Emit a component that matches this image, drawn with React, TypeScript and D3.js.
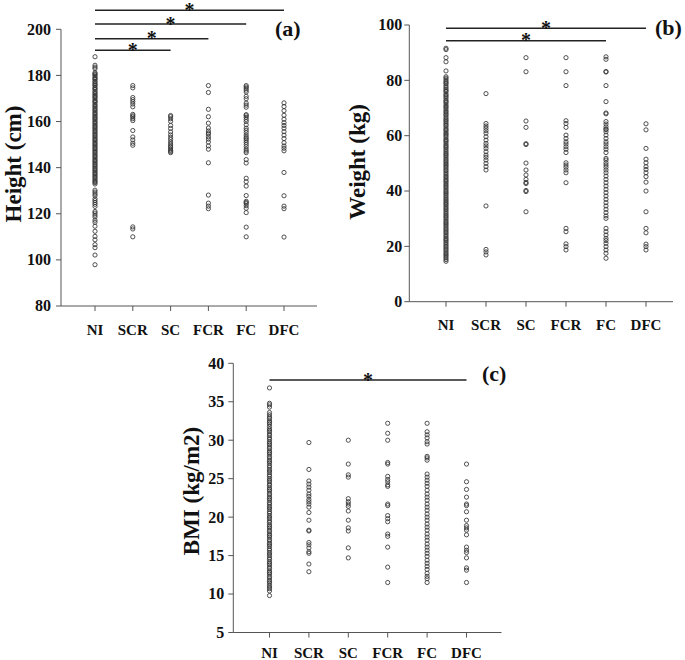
import React from "react";
import * as d3 from "d3";

const categories = ["NI", "SCR", "SC", "FCR", "FC", "DFC"];

// ---- Panel (a): Height (cm)
const heightNI = [188.1, 184.4, 183.6, 182.9, 181.2, 180.7, 180.3, 179.8, 179.1, 178.6, 178.3, 177.5, 177.1, 176.4, 175.9, 175.5, 174.8, 174.2, 173.9, 173.1, 172.5, 172.0, 171.4, 170.9, 170.4, 169.8, 169.1, 168.6, 168.2, 167.4, 166.9, 166.3, 165.8, 165.1, 164.7, 164.0, 163.5, 162.9, 162.3, 161.8, 161.2, 160.8, 160.1, 159.6, 159.0, 158.4, 157.9, 157.3, 156.8, 156.2, 155.6, 155.0, 154.5, 153.9, 153.3, 152.8, 152.2, 151.7, 151.0, 150.5, 149.9, 149.4, 148.8, 148.2, 147.7, 147.1, 146.6, 145.9, 145.4, 144.8, 144.3, 143.6, 143.1, 142.5, 142.0, 141.4, 140.8, 140.3, 139.7, 139.1, 138.6, 138.0, 137.4, 136.9, 136.3, 135.8, 135.1, 134.6, 134.0, 133.5, 132.9, 130.2, 129.4, 128.6, 127.8, 126.5, 125.7, 124.9, 124.1, 123.2, 121.0, 120.3, 119.4, 118.6, 117.2, 116.3, 114.6, 112.4, 110.2, 108.7, 106.6, 105.3, 102.1, 97.9];
const heightSCR = [175.6, 174.6, 170.4, 169.5, 168.6, 167.6, 166.4, 163.1, 162.5, 162.0, 161.2, 160.4, 156.1, 153.3, 152.0, 150.6, 149.7, 114.3, 113.4, 110.0];
const heightSC = [162.6, 162.1, 161.2, 160.1, 158.3, 157.0, 155.5, 154.2, 153.1, 152.2, 151.1, 150.2, 149.4, 148.9, 148.1, 147.5, 147.0, 146.5];
const heightFCR = [175.6, 172.6, 165.3, 162.1, 159.3, 157.2, 155.9, 155.0, 154.5, 153.4, 152.4, 151.1, 149.4, 148.0, 142.1, 128.1, 124.6, 123.3, 122.2];
const heightFC = [175.6, 175.0, 174.4, 173.6, 172.8, 170.9, 169.9, 168.0, 167.1, 166.2, 163.0, 162.5, 161.8, 160.9, 160.0, 158.6, 157.1, 156.2, 155.2, 154.1, 153.2, 152.6, 151.9, 151.0, 150.1, 149.1, 148.0, 147.2, 146.5, 143.5, 142.0, 135.4, 133.9, 132.0, 127.9, 125.4, 124.9, 124.4, 123.5, 122.4, 120.5, 114.2, 110.0];
const heightDFC = [168.1, 166.5, 164.7, 162.7, 161.0, 159.5, 158.3, 157.1, 155.6, 154.1, 152.6, 150.8, 149.4, 148.4, 147.3, 137.9, 127.8, 123.3, 122.2, 109.9];
const heightTicks = [80, 100, 120, 140, 160, 180, 200];

// ---- Panel (b): Weight (kg)
const weightNI = [91.6, 91.1, 88.2, 86.7, 83.4, 81.3, 80.8, 80.2, 79.6, 79.1, 78.7, 78.0, 77.4, 76.8, 76.3, 75.9, 75.1, 74.6, 74.1, 73.5, 72.8, 72.3, 71.9, 71.2, 70.6, 70.2, 69.5, 68.9, 68.4, 67.8, 67.4, 66.7, 66.1, 65.6, 65.1, 64.5, 63.9, 63.5, 62.8, 62.2, 61.8, 61.1, 60.6, 60.1, 59.5, 58.8, 58.3, 57.9, 57.2, 56.6, 56.1, 55.6, 55.0, 54.4, 53.8, 53.3, 52.8, 52.2, 51.6, 51.0, 50.5, 49.9, 49.4, 48.9, 48.3, 47.7, 47.2, 46.6, 46.0, 45.4, 44.9, 44.3, 43.8, 43.3, 42.7, 42.1, 41.6, 41.0, 40.4, 39.8, 39.3, 38.8, 38.2, 37.6, 37.0, 36.5, 35.9, 35.4, 34.9, 34.3, 33.7, 33.2, 32.6, 32.0, 31.4, 30.9, 30.4, 29.8, 29.2, 28.6, 28.1, 27.6, 27.0, 26.4, 25.9, 25.3, 24.8, 24.2, 23.6, 23.0, 22.5, 22.0, 21.4, 20.8, 20.2, 19.7, 19.1, 18.6, 18.0, 17.4, 16.9, 16.4, 15.8, 15.2, 14.6];
const weightSCR = [75.2, 64.4, 63.5, 62.7, 61.8, 60.9, 59.6, 58.4, 57.2, 56.3, 55.4, 54.2, 53.0, 52.2, 51.2, 50.0, 48.8, 47.6, 34.6, 18.9, 18.0, 16.9];
const weightSC = [88.2, 83.1, 65.3, 63.0, 57.1, 56.8, 50.1, 47.6, 45.8, 44.2, 43.1, 42.7, 40.2, 39.8, 32.5];
const weightFCR = [88.2, 83.1, 78.1, 65.4, 64.4, 63.0, 60.2, 59.0, 57.8, 57.0, 56.0, 55.1, 53.9, 50.2, 49.4, 48.6, 47.6, 46.6, 43.0, 26.5, 25.3, 20.9, 19.9, 18.7];
const weightFC = [88.5, 87.6, 83.2, 83.0, 78.1, 72.3, 68.2, 67.9, 65.1, 64.2, 63.2, 62.4, 62.2, 61.4, 60.2, 59.0, 57.8, 57.0, 56.0, 55.1, 53.9, 51.8, 51.2, 50.2, 49.4, 48.6, 47.6, 46.6, 45.4, 44.2, 43.0, 41.8, 40.6, 39.4, 38.2, 37.0, 35.8, 34.6, 33.4, 32.2, 31.0, 30.1, 26.5, 25.3, 24.1, 22.9, 22.1, 21.1, 19.9, 18.7, 17.5, 15.7];
const weightDFC = [64.3, 62.1, 55.4, 51.5, 50.2, 48.8, 47.8, 46.6, 45.2, 43.2, 40.0, 32.5, 26.5, 24.9, 20.8, 19.9, 18.7];
const weightTicks = [0, 20, 40, 60, 80, 100];

// ---- Panel (c): BMI (kg/m2)
const bmiNI = [36.8, 34.8, 34.6, 34.3, 33.6, 33.3, 33.0, 32.8, 32.5, 32.3, 32.1, 31.8, 31.5, 31.3, 31.1, 30.8, 30.6, 30.3, 30.1, 29.8, 29.6, 29.4, 29.1, 28.9, 28.6, 28.4, 28.2, 27.9, 27.7, 27.4, 27.2, 27.0, 26.7, 26.5, 26.2, 26.0, 25.8, 25.5, 25.3, 25.0, 24.8, 24.6, 24.3, 24.1, 23.8, 23.6, 23.4, 23.1, 22.9, 22.6, 22.4, 22.2, 21.9, 21.7, 21.4, 21.2, 21.0, 20.7, 20.5, 20.2, 20.0, 19.8, 19.5, 19.3, 19.0, 18.8, 18.6, 18.3, 18.1, 17.8, 17.6, 17.4, 17.1, 16.9, 16.6, 16.4, 16.2, 15.9, 15.7, 15.4, 15.2, 15.0, 14.7, 14.5, 14.2, 14.0, 13.8, 13.5, 13.3, 13.0, 12.8, 12.6, 12.3, 12.1, 11.8, 11.6, 11.4, 11.1, 10.9, 10.7, 10.4, 9.8];
const bmiSCR = [29.7, 26.2, 24.7, 24.3, 23.9, 23.5, 23.0, 22.7, 22.3, 22.0, 21.7, 21.3, 20.6, 19.6, 18.3, 18.2, 16.7, 16.4, 16.0, 15.5, 15.3, 13.9, 12.9];
const bmiSC = [30.0, 26.9, 25.5, 25.2, 22.4, 22.0, 21.7, 21.4, 20.8, 19.6, 18.6, 18.2, 16.0, 14.7];
const bmiFCR = [32.2, 30.9, 30.0, 27.1, 26.9, 25.3, 24.9, 24.6, 24.2, 24.0, 21.7, 21.5, 20.2, 19.8, 19.4, 17.8, 17.5, 16.1, 13.5, 11.5];
const bmiFC = [32.2, 31.1, 30.7, 30.3, 29.8, 29.5, 27.9, 27.7, 27.4, 25.6, 25.2, 24.8, 24.4, 24.0, 23.5, 23.0, 22.6, 22.2, 21.7, 21.3, 20.9, 20.4, 20.0, 19.6, 19.1, 18.7, 18.3, 17.8, 17.4, 17.0, 16.5, 16.1, 15.7, 15.3, 14.9, 14.4, 14.0, 13.6, 13.2, 12.7, 12.3, 12.0, 11.5];
const bmiDFC = [26.9, 24.6, 23.6, 22.6, 21.7, 21.5, 20.7, 19.6, 18.9, 18.6, 18.3, 17.7, 16.1, 15.7, 15.4, 14.7, 13.4, 13.1, 11.5];
const bmiTicks = [5, 10, 15, 20, 25, 30, 35, 40];

const FONT = "Times New Roman, Times, Liberation Serif, Tinos, serif";

type Sig = { to: string; y: number };
type PanelProps = {
  series: number[][];
  ticks: number[];
  yDomain: [number, number];
  yRange: [number, number];
  axisX: number;
  xAxisEnd: number;
  catRange: [number, number];
  tickLabelGap: number;
  xLabelY: number;
  yLabel: string;
  yLabelX: number;
  yLabelY: number;
  letter: string;
  letterX: number;
  letterY: number;
  sigs: Sig[];
};

function Panel(p: PanelProps) {
  const y = d3.scaleLinear().domain(p.yDomain).range(p.yRange);
  const x = d3.scalePoint<string>().domain(categories).range(p.catRange);
  const yBase = p.yRange[0];
  const yTop = p.yRange[1];
  return (
    <g>
      <line x1={p.axisX} x2={p.axisX} y1={yTop} y2={yBase} stroke="#555" strokeWidth={1} />
      <line x1={p.axisX} x2={p.xAxisEnd} y1={yBase} y2={yBase} stroke="#555" strokeWidth={1} />
      {p.ticks.map((t) => (
        <g key={"yt" + t}>
          <line x1={p.axisX - 5} x2={p.axisX} y1={y(t)} y2={y(t)} stroke="#555" strokeWidth={1} />
          <text
            x={p.axisX - p.tickLabelGap}
            y={y(t)}
            dy="0.34em"
            textAnchor="end"
            fontFamily={FONT}
            fontWeight="bold"
            fontSize={16}
            fill="#111"
          >
            {t}
          </text>
        </g>
      ))}
      {categories.map((c) => (
        <g key={"xt" + c}>
          <line x1={x(c)} x2={x(c)} y1={yBase} y2={yBase + 5} stroke="#555" strokeWidth={1} />
          <text
            x={x(c)}
            y={p.xLabelY}
            textAnchor="middle"
            fontFamily={FONT}
            fontWeight="bold"
            fontSize={15}
            fill="#111"
          >
            {c}
          </text>
        </g>
      ))}
      <text
        transform={`translate(${p.yLabelX},${p.yLabelY}) rotate(-90)`}
        textAnchor="middle"
        fontFamily={FONT}
        fontWeight="bold"
        fontSize={23}
        fill="#111"
      >
        {p.yLabel}
      </text>
      <text x={p.letterX} y={p.letterY} fontFamily={FONT} fontWeight="bold" fontSize={22} fill="#111">
        {p.letter}
      </text>
      {p.series.map((vals, i) =>
        vals.map((v, j) => (
          <circle
            key={`p${i}-${j}`}
            cx={x(categories[i])}
            cy={y(v)}
            r={2.1}
            fill="none"
            stroke="#333"
            strokeWidth={0.85}
          />
        ))
      )}
      {p.sigs.map((s, k) => {
        const x1 = x("NI") as number;
        const x2 = x(s.to) as number;
        return (
          <g key={"sig" + k}>
            <line x1={x1} x2={x2} y1={s.y} y2={s.y} stroke="#222" strokeWidth={1.5} />
            <text
              x={(x1 + x2) / 2}
              y={s.y + 6.5}
              textAnchor="middle"
              fontFamily={FONT}
              fontWeight="bold"
              fontSize={20}
              fill="#111"
            >
              *
            </text>
          </g>
        );
      })}
    </g>
  );
}

export default function App() {
  return (
    <div style={{ position: "absolute", left: 0, top: 0 }}>
      <svg width={685} height={660} style={{ display: "block", background: "#fff" }}>
        <Panel
          series={[heightNI, heightSCR, heightSC, heightFCR, heightFC, heightDFC]}
          ticks={heightTicks}
          yDomain={[80, 200]}
          yRange={[306, 29.3]}
          axisX={61}
          xAxisEnd={317}
          catRange={[95, 284]}
          tickLabelGap={10}
          xLabelY={335}
          yLabel="Height (cm)"
          yLabelX={21}
          yLabelY={164}
          letter="(a)"
          letterX={275}
          letterY={36}
          sigs={[
            { to: "DFC", y: 10.3 },
            { to: "FC", y: 24 },
            { to: "FCR", y: 38.7 },
            { to: "SC", y: 50.3 },
          ]}
        />
        <Panel
          series={[weightNI, weightSCR, weightSC, weightFCR, weightFC, weightDFC]}
          ticks={weightTicks}
          yDomain={[0, 100]}
          yRange={[301.7, 25]}
          axisX={409.3}
          xAxisEnd={673}
          catRange={[446, 646]}
          tickLabelGap={7}
          xLabelY={330}
          yLabel="Weight (kg)"
          yLabelX={365}
          yLabelY={162}
          letter="(b)"
          letterX={655}
          letterY={35}
          sigs={[
            { to: "DFC", y: 28.3 },
            { to: "FC", y: 40.7 },
          ]}
        />
        <Panel
          series={[bmiNI, bmiSCR, bmiSC, bmiFCR, bmiFC, bmiDFC]}
          ticks={bmiTicks}
          yDomain={[5, 40]}
          yRange={[632.5, 363.3]}
          axisX={233.3}
          xAxisEnd={501.5}
          catRange={[269.5, 466.5]}
          tickLabelGap={9}
          xLabelY={658}
          yLabel="BMI (kg/m2)"
          yLabelX={199}
          yLabelY={491}
          letter="(c)"
          letterX={482}
          letterY={381}
          sigs={[{ to: "DFC", y: 380 }]}
        />
      </svg>
    </div>
  );
}
